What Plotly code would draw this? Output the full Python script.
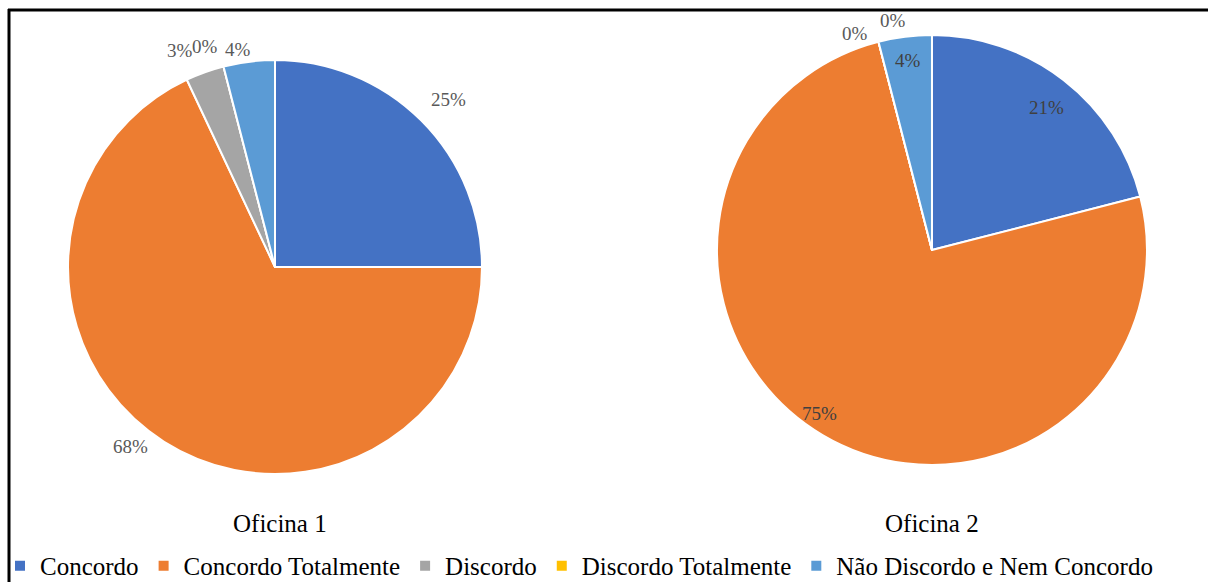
import math
import plotly.graph_objects as go

# ---------------- data ----------------
categories = ["Concordo", "Concordo Totalmente", "Discordo",
              "Discordo Totalmente", "Não Discordo e Nem Concordo"]
oficina1 = [25, 68, 3, 0, 4]
oficina2 = [21, 75, 0, 0, 4]
pie_titles = ["Oficina 1", "Oficina 2"]
fig_title = "Figura 2 – Avaliação da oficina pedagógica"

# ---------------- style ----------------
W, H = 1208, 582
colors = ["#4472C4", "#ED7D31", "#A5A5A5", "#FFC000", "#5B9BD5"]
SERIF = "Liberation Serif, Times New Roman, serif"

dom1 = dict(x=[0.0563, 0.3990], y=[0.1856, 0.8969])
dom2 = dict(x=[0.5935, 0.9495], y=[0.2010, 0.9398])

# per-label placement: (radial factor, xshift, yshift, colour)
style1 = [(1.165, 3, -3, "#595959"), (1.12, -20, 16, "#595959"),
          (1.11, -17, 0, "#595959"), (1.10, -13, 0, "#595959"),
          (1.06, -10, 0, "#595959")]
style2 = [(0.85, 3, -2, "#404040"), (0.86, -18, -4, "#404040"),
          (1.04, -21, 0, "#595959"), (1.10, 20, 0, "#595959"),
          (0.89, 0, 0, "#404040")]

fig = go.Figure()
for i, (vals, dom) in enumerate([(oficina1, dom1), (oficina2, dom2)]):
    fig.add_trace(go.Pie(
        labels=categories, values=vals, domain=dom, sort=False,
        direction="clockwise", rotation=0, textinfo="none",
        marker=dict(colors=colors, line=dict(color="white", width=2)),
        showlegend=(i == 0), hole=0,
    ))


def geom(dom):
    x0, x1 = dom["x"]
    y0, y1 = dom["y"]
    cx = (x0 + x1) / 2 * W
    cy = (1 - (y0 + y1) / 2) * H
    r = min((x1 - x0) * W, (y1 - y0) * H) / 2
    return cx, cy, r


annotations = []
for vals, dom, sty in [(oficina1, dom1, style1), (oficina2, dom2, style2)]:
    cx, cy, r = geom(dom)
    total = sum(vals)
    cum = 0
    for v, (k, xs, ys, col) in zip(vals, sty):
        a = 2 * math.pi * (cum + v / 2) / total
        cum += v
        px = cx + k * r * math.sin(a)
        py = cy - k * r * math.cos(a)
        annotations.append(dict(
            x=px / W, y=1 - py / H, xref="paper", yref="paper",
            text=f"{round(100 * v / total)}%", showarrow=False,
            xanchor="center", yanchor="middle", xshift=xs, yshift=ys,
            font=dict(family=SERIF, size=19, color=col)))

# pie sub-titles
for dom, t, xs in [(dom1, pie_titles[0], 5), (dom2, pie_titles[1], 0)]:
    cx, cy, r = geom(dom)
    annotations.append(dict(
        x=cx / W, y=1 - 523 / H, xref="paper", yref="paper", text=t,
        showarrow=False, xanchor="center", yanchor="middle", xshift=xs,
        font=dict(family=SERIF, size=25, color="black")))

# cropped figure caption at the very top
annotations.append(dict(
    x=0.505, y=1, xref="paper", yref="paper", text=fig_title,
    showarrow=False, xanchor="center", yanchor="bottom", yshift=-3,
    font=dict(family=SERIF, size=26, color="black")))

shapes = [
    dict(type="line", xref="paper", yref="paper", x0=8 / W, x1=1,
         y0=1 - 10 / H, y1=1 - 10 / H, line=dict(color="black", width=3)),
    dict(type="line", xref="paper", yref="paper", x0=9 / W, x1=9 / W,
         y0=0, y1=1 - 9 / H, line=dict(color="black", width=3)),
]

fig.update_layout(
    width=W, height=H,
    margin=dict(l=0, r=0, t=0, b=0, autoexpand=False),
    paper_bgcolor="white", plot_bgcolor="white",
    annotations=annotations, shapes=shapes,
    legend=dict(orientation="h", x=0, y=-0.012, xanchor="left",
                yanchor="bottom",
                font=dict(family=SERIF, size=25, color="black"),
                bgcolor="rgba(0,0,0,0)", traceorder="normal"),
)

fig.write_html("out.html")
